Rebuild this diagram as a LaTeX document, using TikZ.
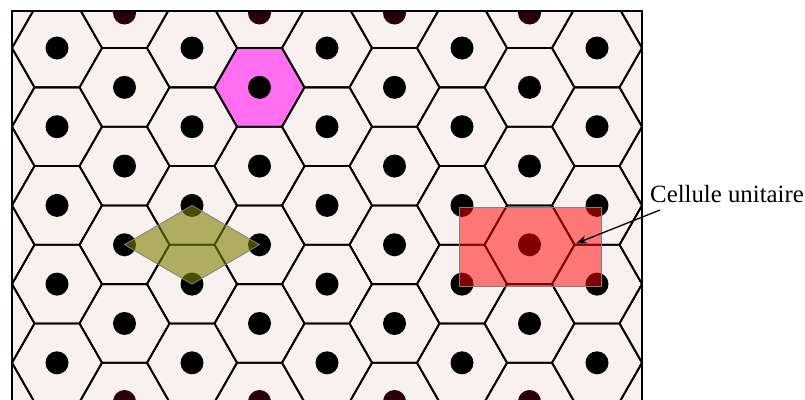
\documentclass[tikz,border=0pt]{standalone}
\usepackage{fontspec}
\setmainfont{Liberation Serif}
\usetikzlibrary{arrows.meta}
\definecolor{bgpink}{RGB}{249,240,240}
\definecolor{hexmag}{RGB}{255,110,240}
\definecolor{dotmaroon}{RGB}{42,0,8}
\definecolor{rhomb}{RGB}{128,128,0}
\begin{document}
\begin{tikzpicture}[x=1pt,y=-1pt,
  hexline/.style={line width=1.8pt, black, line join=round},
  frameline/.style={line width=1.8pt, black},
  dotstyle/.style={fill=black},
  partdot/.style={fill=dotmaroon},
  olivecell/.style={fill=rhomb, fill opacity=0.6, draw=gray, line width=0.8pt},
  redcell/.style={fill=red, fill opacity=0.5, draw=gray, line width=0.8pt},
  lbl/.style={font=\fontsize{24.8}{29}\selectfont, inner sep=0pt},
  pointer/.style={-{Stealth[length=11pt,width=8pt]}, line width=1.3pt}]
\useasboundingbox (0,0) rectangle (805,399);
\fill[bgpink] (12,11) rectangle (642,420);
\begin{scope}
  \clip (12,11) rectangle (642,420);
  % magenta cell
  \fill[hexmag] (214.5,87.35) -- ++(22.5,-39.35) -- ++(45,0) -- ++(22.5,39.35) -- ++(-22.5,39.35) -- ++(-45,0) -- cycle;
  % hexagon tiling
  \foreach \i in {-1,...,9} {
    \pgfmathsetmacro\cx{57+67.5*\i}
    \pgfmathsetmacro\off{mod(\i+2,2)*39.35}
    \foreach \j in {-1,...,6} {
      \pgfmathsetmacro\cy{48+\off+78.7*\j}
      \draw[hexline] (\cx-45,\cy) -- ++(22.5,-39.35) -- ++(45,0) -- ++(22.5,39.35) -- ++(-22.5,39.35) -- ++(-45,0) -- cycle;
    }
  }
  % dots, even columns
  \foreach \i in {0,2,4,6,8} {
    \foreach \j in {0,...,4} {
      \fill[dotstyle] ({57+67.5*\i},{48+78.7*\j}) circle (11.5);
    }
  }
  % dots, odd columns
  \foreach \i in {1,3,5,7} {
    \foreach \j in {0,...,3} {
      \fill[dotstyle] ({57+67.5*\i},{87.35+78.7*\j}) circle (11.5);
    }
    \fill[partdot] ({57+67.5*\i},13) circle (11.5);
    \fill[partdot] ({57+67.5*\i},401.5) circle (11.5);
  }
  % olive rhombus
  \draw[olivecell] (124.5,244.7) -- (192,205.4) -- (259.5,244.7) -- (192,284.1) -- cycle;
  % red unit cell
  \draw[redcell] (459,207) rectangle (601,286);
\end{scope}
% frame
\draw[frameline] (12,420) -- (12,11) -- (642,11) -- (642,420);
% label and arrow
\node[lbl, anchor=base west] (label) at (650,202) {Cellule unitaire};
\coordinate (arrS) at (660,210);
\coordinate (arrT) at (576,243.5);
\draw[pointer] (arrS) -- (arrT);
\end{tikzpicture}
\end{document}
